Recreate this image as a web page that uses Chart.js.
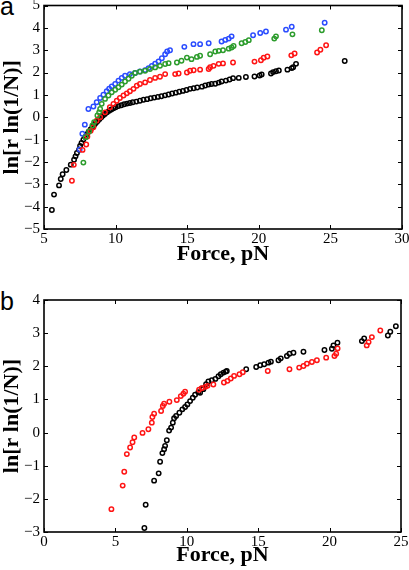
<!DOCTYPE html>
<html>
<head>
<meta charset="utf-8">
<script src="https://cdn.jsdelivr.net/npm/chart.js@4"></script>
<style>
  html, body { margin: 0; padding: 0; background: #fff; }
  body { width: 409px; height: 570px; position: relative; overflow: hidden; }
  canvas { position: absolute; left: 0; }
  #chart-a { top: 0; }
  #chart-b { top: 280px; }
  .tag { position: absolute; left: 0; font: 25px "Liberation Sans", Arial, sans-serif; line-height: 1; }
</style>
</head>
<body>
<div class="tag" style="top:-6px">a</div>
<div class="tag" style="top:289px">b</div>
<canvas id="chart-a" width="409" height="270"></canvas>
<canvas id="chart-b" width="409" height="290"></canvas>
<script>
// ─── Data: [force (pN), ln[r ln(1/N)]] ───────────────────────────────────────

// Panel a
const aBlack = [
  [5.55,-4.15],[5.7,-3.46],[6.05,-3.05],[6.17,-2.76],[6.3,-2.55],[6.56,-2.36],[6.87,-2.12],
  [7.1,-1.9],[7.2,-1.75],[7.3,-1.6],[7.45,-1.45],[7.52,-1.28],[7.62,-1.15],[7.75,-1.0],
  [7.88,-0.88],[8.0,-0.76],[8.12,-0.65],[8.25,-0.55],[8.38,-0.45],[8.5,-0.35],[8.62,-0.26],
  [8.75,-0.17],[8.88,-0.08],[9.0,0.0],[9.12,0.08],[9.25,0.15],[9.4,0.22],[9.55,0.29],
  [9.7,0.35],[9.85,0.4],[10.0,0.45],[10.2,0.5],[10.4,0.54],[10.6,0.58],[10.8,0.61],
  [11.0,0.64],[11.2,0.67],[11.45,0.7],[11.7,0.74],[11.95,0.78],[12.2,0.81],[12.45,0.85],
  [12.7,0.88],[12.95,0.91],[13.2,0.94],[13.45,0.98],[13.7,1.02],[13.95,1.06],[14.2,1.1],
  [14.45,1.14],[14.7,1.18],[14.95,1.22],[15.2,1.27],[15.45,1.3],[15.7,1.33],[16.03,1.37],
  [16.26,1.42],[16.5,1.46],[16.7,1.49],[16.96,1.5],[17.2,1.55],[17.4,1.6],[17.7,1.64],
  [17.96,1.69],[18.2,1.75],[18.6,1.76],[19.1,1.8],[19.7,1.82],[20.06,1.87],[20.2,1.91],
  [20.85,1.96],[21.0,2.02],[21.2,2.06],[21.4,2.09],[22.0,2.13],[22.3,2.2],[22.4,2.24],
  [22.6,2.39],[26.0,2.52]
];
const aBlue = [
  [7.49,-1.44],[7.68,-0.74],[7.85,-0.33],[8.1,0.37],[8.45,0.48],[8.68,0.67],[8.92,0.86],
  [9.15,1.01],[9.38,1.16],[9.55,1.28],[9.73,1.38],[9.97,1.49],[10.2,1.64],[10.43,1.76],
  [10.66,1.86],[11.0,1.93],[11.36,1.98],[11.7,2.05],[12.06,2.11],[12.3,2.2],[12.53,2.3],
  [12.76,2.4],[13.0,2.5],[13.23,2.64],[13.46,2.82],[13.6,2.94],[13.8,3.0],[14.8,3.15],
  [15.44,3.27],[15.9,3.27],[16.5,3.31],[17.4,3.39],[17.66,3.46],[17.9,3.52],[18.1,3.62],
  [19.6,3.67],[20.1,3.77],[20.5,3.84],[21.9,3.92],[22.3,4.05],[24.6,4.23]
];
const aGreen = [
  [7.75,-2.03],[7.91,-0.89],[8.15,-0.64],[8.38,-0.37],[8.5,-0.22],[8.73,0.08],[8.85,0.22],
  [8.92,0.37],[9.03,0.6],[9.26,0.82],[9.5,0.97],[9.73,1.12],[9.97,1.23],[10.2,1.34],
  [10.43,1.46],[10.66,1.6],[10.9,1.72],[11.13,1.86],[11.36,1.98],[11.7,2.04],[12.06,2.08],
  [12.4,2.16],[12.76,2.23],[13.1,2.3],[13.46,2.38],[13.7,2.42],[14.28,2.45],[14.6,2.53],
  [14.98,2.67],[15.3,2.6],[15.68,2.7],[15.9,2.75],[16.6,2.82],[16.96,2.94],[17.2,2.97],
  [17.5,3.0],[17.9,3.07],[18.1,3.12],[18.24,3.19],[18.8,3.31],[19.06,3.37],[19.3,3.45],
  [21.08,3.52],[21.2,3.62],[22.35,3.71],[24.4,3.89]
];
const aRed = [
  [6.95,-2.84],[7.08,-2.13],[7.69,-1.46],[7.95,-1.22],[8.03,-0.86],[8.26,-0.6],[8.45,-0.45],
  [8.68,-0.15],[8.92,0.0],[9.26,0.22],[9.6,0.45],[9.85,0.6],[10.08,0.74],[10.3,0.86],
  [10.55,0.97],[10.78,1.07],[11.0,1.16],[11.25,1.27],[11.48,1.41],[11.7,1.49],[12.06,1.56],
  [12.4,1.67],[12.76,1.76],[13.1,1.81],[13.46,1.93],[14.16,1.93],[14.4,1.96],[14.98,2.0],
  [15.2,2.08],[15.45,2.1],[15.9,2.13],[16.5,2.16],[16.6,2.24],[16.84,2.3],[17.2,2.39],
  [17.5,2.41],[18.2,2.45],[19.7,2.49],[20.15,2.55],[20.34,2.66],[20.6,2.72],[22.27,2.77],
  [22.5,2.85],[24.07,2.9],[24.3,3.02],[24.7,3.22]
];

// Panel b
const bRed = [
  [4.72,-2.31],[5.51,-1.6],[5.62,-1.18],[5.8,-0.65],[6.03,-0.45],[6.2,-0.29],[6.32,-0.15],
  [6.9,-0.01],[7.31,0.1],[7.55,0.3],[7.59,0.47],[7.71,0.57],[8.2,0.65],[8.32,0.8],
  [8.41,0.87],[8.78,0.93],[9.3,0.98],[9.58,1.1],[9.76,1.17],[9.88,1.23],[10.86,1.29],
  [11.05,1.34],[11.3,1.38],[11.45,1.41],[11.86,1.45],[12.6,1.51],[12.85,1.56],[13.08,1.63],
  [13.31,1.71],[13.69,1.76],[13.92,1.82],[15.67,1.86],[17.19,1.91],[17.87,1.96],[18.17,2.01],
  [18.41,2.08],[18.76,2.13],[19.11,2.18],[19.76,2.26],[20.34,2.31],[20.46,2.38],[20.56,2.54],
  [22.6,2.63],[22.73,2.73],[22.96,2.88],[23.55,3.08]
];
const bBlack = [
  [7.03,-2.88],[7.12,-2.18],[7.71,-1.45],[8.03,-1.23],[8.13,-0.88],[8.29,-0.62],[8.41,-0.5],
  [8.48,-0.4],[8.6,-0.23],[8.76,0.06],[8.9,0.15],[9.02,0.3],[9.11,0.43],[9.25,0.5],
  [9.48,0.6],[9.69,0.7],[9.88,0.77],[10.04,0.85],[10.23,0.95],[10.42,1.05],[10.58,1.14],
  [10.81,1.22],[10.93,1.2],[11.05,1.33],[11.16,1.31],[11.35,1.46],[11.51,1.54],[11.75,1.58],
  [12.0,1.62],[12.22,1.7],[12.38,1.76],[12.57,1.81],[12.73,1.84],[12.8,1.86],[14.16,1.91],
  [14.86,1.98],[15.14,2.03],[15.42,2.06],[15.72,2.11],[15.89,2.14],[16.42,2.18],[16.58,2.24],
  [17.01,2.31],[17.19,2.38],[17.47,2.41],[18.17,2.44],[19.64,2.49],[20.16,2.53],[20.27,2.63],
  [20.55,2.71],[22.26,2.76],[22.42,2.84],[24.08,2.93],[24.25,3.04],[24.64,3.21]
];

// Tick values
const aXTicks = [5, 10, 15, 20, 25, 30];
const aYTicks = [-5, -4, -3, -2, -1, 0, 1, 2, 3, 4, 5];
const bXTicks = [0, 5, 10, 15, 20, 25];
const bYTicks = [-3, -2, -1, 0, 1, 2, 3, 4];

const COLORS = { black: '#000000', blue: '#2a4cff', green: '#2c9c2c', red: '#ff1414' };

const SERIF = '"Liberation Serif", "Times New Roman", serif';
const Y_TITLE = 'ln[r ln(1/N)]';
const X_TITLE = 'Force, pN';

// ─── Helpers ─────────────────────────────────────────────────────────────────

function toPoints(pairs) {
  return pairs.map(([x, y]) => ({ x, y }));
}

function series(pairs, color) {
  return {
    data: toPoints(pairs),
    borderColor: color,
    backgroundColor: 'rgba(0,0,0,0)',
    pointRadius: 2.2,
    pointBorderWidth: 1.5,
    pointStyle: 'circle',
    showLine: false,
  };
}

function tickLabel(v) {
  return v < 0 ? '\u2212' + Math.abs(v) : String(v);
}

// Matlab-style box with inward ticks on all four sides
const boxTicks = {
  id: 'boxTicks',
  afterDraw(chart) {
    const { ctx, chartArea: { left, right, top, bottom }, scales: { x, y } } = chart;
    const len = 4;
    ctx.save();
    ctx.strokeStyle = '#000';
    ctx.lineWidth = 1;
    ctx.beginPath();
    x.ticks.forEach(t => {
      const px = Math.round(x.getPixelForValue(t.value)) + 0.5;
      ctx.moveTo(px, bottom); ctx.lineTo(px, bottom - len);
      ctx.moveTo(px, top); ctx.lineTo(px, top + len);
    });
    y.ticks.forEach(t => {
      const py = Math.round(y.getPixelForValue(t.value)) + 0.5;
      ctx.moveTo(left, py); ctx.lineTo(left + len, py);
      ctx.moveTo(right, py); ctx.lineTo(right - len, py);
    });
    ctx.stroke();
    ctx.lineWidth = 1.6;
    ctx.strokeRect(left, top, right - left, bottom - top);
    ctx.restore();
  },
};

function makeChart(id, datasets, opts) {
  const { xTicks, yTicks, padding, xHeight } = opts;
  return new Chart(document.getElementById(id), {
    type: 'scatter',
    data: { datasets },
    options: {
      responsive: false,
      animation: false,
      events: [],
      layout: { padding },
      plugins: { legend: { display: false }, tooltip: { enabled: false } },
      scales: {
        x: {
          type: 'linear',
          min: xTicks[0],
          max: xTicks[xTicks.length - 1],
          afterBuildTicks: s => { s.ticks = xTicks.map(v => ({ value: v })); },
          afterFit: s => { s.height = xHeight; s.paddingLeft = 0; s.paddingRight = 0; },
          grid: { display: false, drawTicks: false },
          border: { display: false },
          ticks: {
            autoSkip: false, maxRotation: 0, padding: 1, color: '#000',
            font: { family: SERIF, size: 15 },
            callback: tickLabel,
          },
          title: {
            display: true, text: X_TITLE, color: '#000', padding: 0,
            font: { family: SERIF, size: 22, weight: 'bold', lineHeight: 1.2 },
          },
        },
        y: {
          type: 'linear',
          min: yTicks[0],
          max: yTicks[yTicks.length - 1],
          afterBuildTicks: s => { s.ticks = yTicks.map(v => ({ value: v })); },
          afterFit: s => { s.width = 44; s.paddingTop = 0; s.paddingBottom = 0; },
          grid: { display: false, drawTicks: false },
          border: { display: false },
          ticks: {
            padding: 4, color: '#000',
            font: { family: SERIF, size: 15 },
            callback: tickLabel,
          },
          title: {
            display: true, text: Y_TITLE, color: '#000', padding: 0,
            font: { family: SERIF, size: 22, weight: 'bold', lineHeight: 1.1 },
          },
        },
      },
    },
    plugins: [boxTicks],
  });
}

// ─── Boot ────────────────────────────────────────────────────────────────────

makeChart('chart-a', [
  series(aGreen, COLORS.green),
  series(aRed, COLORS.red),
  series(aBlue, COLORS.blue),
  series(aBlack, COLORS.black),
], {
  xTicks: aXTicks, yTicks: aYTicks,
  padding: { top: 4, right: 7, bottom: 2, left: 0 },
  xHeight: 39,
});

makeChart('chart-b', [
  series(bRed, COLORS.red),
  series(bBlack, COLORS.black),
], {
  xTicks: bXTicks, yTicks: bYTicks,
  padding: { top: 20, right: 8, bottom: 1, left: 0 },
  xHeight: 37,
});
</script>
</body>
</html>
